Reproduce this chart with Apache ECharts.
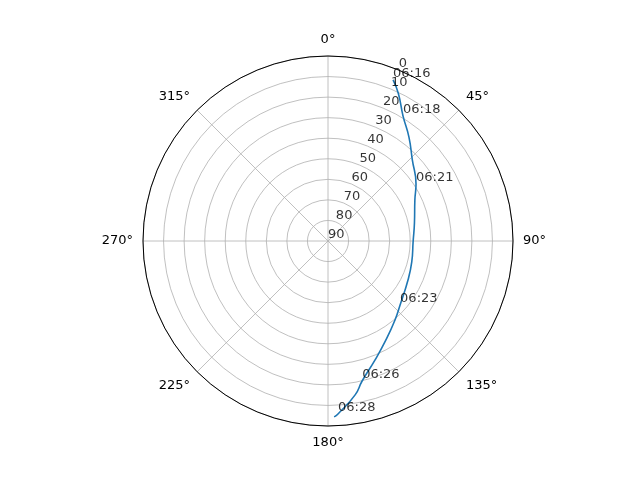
<!DOCTYPE html>
<html>
<head>
<meta charset="utf-8">
<script src="https://cdn.jsdelivr.net/npm/echarts@6/dist/echarts.min.js"></script>
<style>html,body{margin:0;padding:0;background:#fff}#pic{width:640px;height:480px}</style>
</head>
<body>
<div id="pic"></div>
<script>
// satellite pass: azimuth (deg) and elevation (deg)
var trackAz = [22.0, 25.5, 31.0, 38.0, 46.0, 57.1, 64.8, 78.0, 90.7, 104.0, 116.0, 131.6, 139.7, 150.0, 158.5, 166.3, 170.0, 176.7, 178.0];
var trackEl = [5.5, 10.5, 19.1, 26.0, 33.0, 39.0, 43.3, 47.0, 48.6, 48.0, 46.7, 43.1, 39.6, 34.0, 27.7, 19.9, 14.0, 5.7, 4.4];
var timeLabels = ['06:16', '06:18', '06:21', '06:23', '06:26', '06:28'];
var timeAz = [22.0, 31.0, 57.1, 131.6, 166.3, 176.7];
var timeEl = [5.5, 19.1, 39.0, 43.1, 19.9, 5.7];
var rTicks = [0, 10, 20, 30, 40, 50, 60, 70, 80, 90];
var rLabelAngle = 22.5;

var chart = echarts.init(document.getElementById('pic'));
var font = 'DejaVu Sans';
var line = [], times = [], rlab = [];
for (var i = 0; i < trackAz.length; i++) line.push([trackEl[i], trackAz[i]]);
for (var i = 0; i < timeAz.length; i++) times.push({value: [timeEl[i], timeAz[i]], name: timeLabels[i]});
for (var i = 0; i < rTicks.length; i++) rlab.push({value: [rTicks[i], rLabelAngle], name: String(rTicks[i])});

var lbl = {
  show: true, position: [0, 0], align: 'left', verticalAlign: 'bottom',
  color: '#000', fontSize: 13, fontFamily: font,
  formatter: function (p) { return p.name; }
};

var option = {
  backgroundColor: '#fff',
  animation: false,
  polar: {center: [328, 241], radius: 185},
  angleAxis: {
    type: 'value', min: 0, max: 360, interval: 45, startAngle: 90, clockwise: true,
    axisLine: {lineStyle: {color: '#000', width: 1}},
    axisTick: {show: false},
    splitLine: {lineStyle: {color: '#b0b0b0', width: 0.8}},
    axisLabel: {
      color: '#000', fontSize: 13, fontFamily: font, margin: 10,
      formatter: function (v) { return v === 360 ? '' : v + '°'; }
    }
  },
  radiusAxis: {
    type: 'value', min: 0, max: 90, interval: 10, inverse: true,
    axisLine: {show: false}, axisTick: {show: false}, axisLabel: {show: false},
    splitLine: {lineStyle: {color: '#b0b0b0', width: 0.8}}
  },
  series: [
    {
      type: 'line', coordinateSystem: 'polar', data: line, smooth: true,
      showSymbol: false, lineStyle: {color: '#1f77b4', width: 1.6}
    },
    {
      type: 'scatter', coordinateSystem: 'polar', data: times, symbolSize: 0,
      label: lbl, z: 5
    },
    {
      type: 'scatter', coordinateSystem: 'polar', data: rlab, symbolSize: 0,
      label: lbl, z: 5
    }
  ]
};
chart.setOption(option);
</script>
</body>
</html>
